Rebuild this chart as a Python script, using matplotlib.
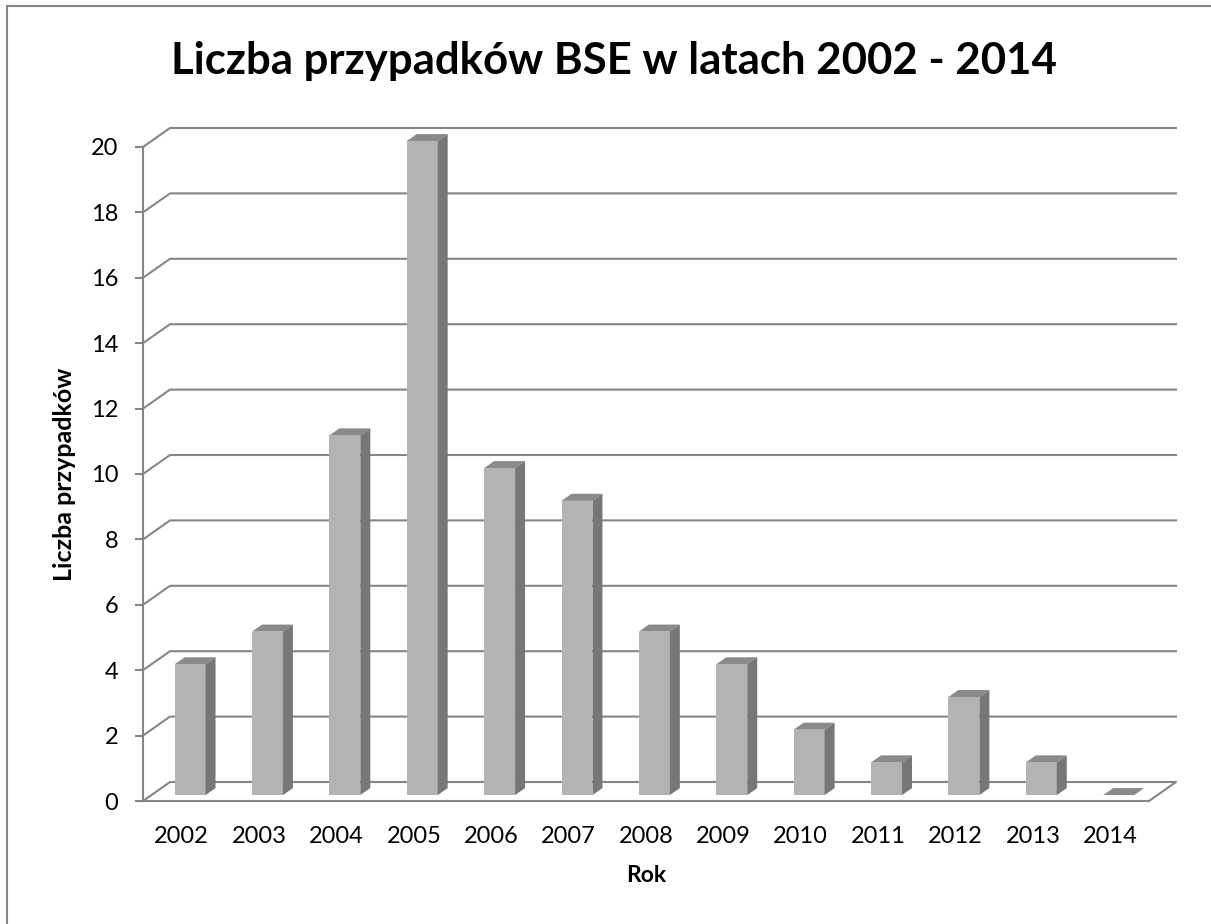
import matplotlib.pyplot as plt
from matplotlib.lines import Line2D
from matplotlib.patches import Polygon

plt.rcParams['font.family'] = ['Lato', 'DejaVu Sans']

# data
years = ['2002', '2003', '2004', '2005', '2006', '2007', '2008',
         '2009', '2010', '2011', '2012', '2013', '2014']
cases = [4, 5, 11, 20, 10, 9, 5, 4, 2, 1, 3, 1, 0]
yticks = list(range(0, 21, 2))

W, H = 1211, 924
fig = plt.figure(figsize=(W / 100, H / 100), dpi=100)

# pseudo 3D depth offsets (data units)
DX = 0.349
DY = 0.581
z0, z1 = 0.31, 0.68
bw = 0.40
grid_c = '#868686'

ax = fig.add_axes([143 / W, (H - 801) / H, 1033 / W, 673 / H])
ax.set_xlim(-0.5, len(years) - 0.5 + DX)
ax.set_ylim(0, 20 + DY)
ax.patch.set_visible(False)

n = len(years)
# back wall gridlines
for v in yticks[1:]:
    ax.plot([-0.5, -0.5 + DX, n - 0.5 + DX], [v, v + DY, v + DY],
            color=grid_c, lw=1.5, clip_on=False, zorder=1)
# floor
ax.plot([-0.5, -0.5 + DX, n - 0.5 + DX, n - 0.5], [0, DY, DY, 0],
        color=grid_c, lw=1.5, clip_on=False, zorder=1)

# bars
for i, v in enumerate(cases):
    xl = i - bw / 2
    xr = i + bw / 2
    top = Polygon([(xl + z0 * DX, v + z0 * DY), (xr + z0 * DX, v + z0 * DY),
                   (xr + z1 * DX, v + z1 * DY), (xl + z1 * DX, v + z1 * DY)],
                  closed=True, fc='#8a8a8a', ec='none', zorder=3, clip_on=False)
    ax.add_patch(top)
    if v > 0:
        front = Polygon([(xl + z0 * DX, z0 * DY), (xr + z0 * DX, z0 * DY),
                         (xr + z0 * DX, v + z0 * DY), (xl + z0 * DX, v + z0 * DY)],
                        closed=True, fc='#b3b3b3', ec='none', zorder=3, clip_on=False)
        side = Polygon([(xr + z0 * DX, z0 * DY), (xr + z1 * DX, z1 * DY),
                        (xr + z1 * DX, v + z1 * DY), (xr + z0 * DX, v + z0 * DY)],
                       closed=True, fc='#777777', ec='none', zorder=3, clip_on=False)
        ax.add_patch(front)
        ax.add_patch(side)

# axes
for s in ['top', 'right']:
    ax.spines[s].set_visible(False)
ax.spines['left'].set_bounds(0, 20)
ax.spines['bottom'].set_bounds(-0.5, n - 0.5)
for s in ['left', 'bottom']:
    ax.spines[s].set_color(grid_c)
    ax.spines[s].set_linewidth(1.5)
    ax.spines[s].set_zorder(2)

ax.set_yticks(yticks)
ax.set_yticklabels([str(t) for t in yticks], fontsize=17)
ax.tick_params(axis='y', direction='out', length=5.8, width=1.5,
               color=grid_c, pad=12)
ax.set_xticks(range(n))
ax.set_xticklabels(years, fontsize=17)
ax.tick_params(axis='x', length=0, pad=18)

ax.set_ylabel('Liczba przypadków', fontsize=18, fontweight='bold')
ax.yaxis.set_label_coords(-(143 - 64) / 1033, 1 - (474 - 128) / 673)
ax.set_xlabel('Rok', fontsize=16.5, fontweight='bold')
ax.xaxis.set_label_coords(6.5 / 13.349, -(876 - 801) / 673)
ax.xaxis.label.set_va('center')
ax.yaxis.label.set_va('center')

fig.text(614 / W, 1 - 74 / H, 'Liczba przypadków BSE w latach 2002 - 2014',
         ha='center', va='baseline', fontsize=31.5, fontweight='bold')

# chart border (left and top)
fig.add_artist(Line2D([7 / W, 7 / W], [0, 1 - 6 / H], color=grid_c, lw=1.5,
                      transform=fig.transFigure))
fig.add_artist(Line2D([7 / W, 1], [1 - 6 / H, 1 - 6 / H], color=grid_c, lw=1.5,
                      transform=fig.transFigure))

plt.savefig('out.png', dpi=100)
